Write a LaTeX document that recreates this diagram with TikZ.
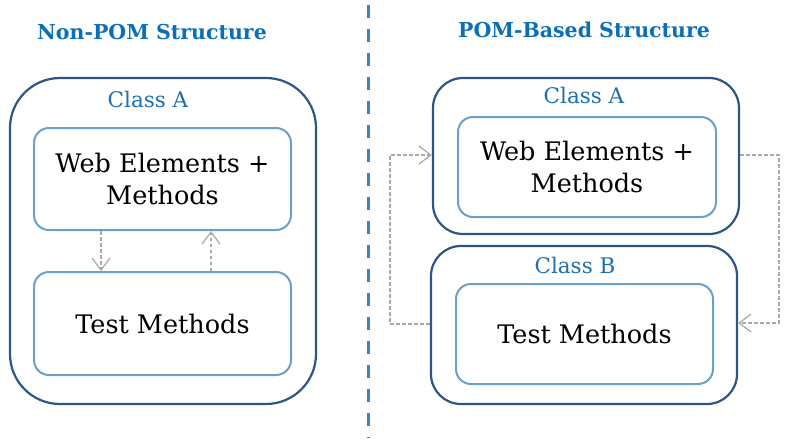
\documentclass[tikz,border=0pt]{standalone}
\usepackage{fontspec}
\setmainfont{DejaVu Serif}
\usetikzlibrary{arrows.meta}
\definecolor{outerc}{HTML}{2F5587}
\definecolor{innerc}{HTML}{6AA0CF}
\definecolor{titlec}{HTML}{0A6FB8}
\definecolor{classc}{HTML}{1F6FB0}
\definecolor{sepc}{HTML}{4A7CC0}
\definecolor{linkc}{HTML}{A8A8A8}
\tikzset{
  outerbox/.style={draw=outerc,line width=2.2pt},
  innerbox/.style={draw=innerc,line width=2pt,rounded corners=15pt},
  title/.style={text=titlec,font=\fontsize{20.5}{24}\selectfont\bfseries},
  classlbl/.style={text=classc,font=\fontsize{21.5}{24}\selectfont},
  body/.style={text=black,font=\fontsize{25.5}{32}\selectfont,align=center},
  link/.style={draw=linkc,line width=1.2pt,dash pattern=on 3.5pt off 2.5pt,
    -{Straight Barb[length=12pt,width=18pt,line width=1.2pt]}},
}
\begin{document}
\begin{tikzpicture}[x=1pt,y=-1pt]
\useasboundingbox (0,0) rectangle (786,440);
% separator
\draw[sepc,line width=3pt,dash pattern=on 13pt off 11pt] (368,5) -- (368,438);
% titles
\node[title] (t1) at (152,32) {Non-POM Structure};
\node[title] (t2) at (584,30) {POM-Based Structure};
% left
\draw[outerbox,rounded corners=50pt] (10,78) rectangle (316,404);
\node[classlbl] (lca) at (148,99) {Class A};
\node[innerbox,minimum width=257pt,minimum height=102pt] (lweb) at (162.5,179) {};
\node[body] at (lweb.center) {Web Elements +\\Methods};
\node[innerbox,minimum width=257pt,minimum height=103pt] (ltest) at (162.5,323.5) {};
\node[body] at (ltest.center) {Test Methods};
\draw[link] (lweb.south -| 101,0) -- (ltest.north -| 101,0);
\draw[link] (ltest.north -| 211,0) -- (lweb.south -| 211,0);
% right
\node[outerbox,rounded corners=30pt,minimum width=306pt,minimum height=156pt] (ra) at (586,156) {};
\node[classlbl] (rca) at (584,95) {Class A};
\node[innerbox,minimum width=258pt,minimum height=100pt] (rweb) at (587,167) {};
\node[body] at (rweb.center) {Web Elements +\\Methods};
\node[outerbox,rounded corners=30pt,minimum width=306pt,minimum height=158pt] (rb) at (584,325) {};
\node[classlbl] (rcb) at (575,265) {Class B};
\node[innerbox,minimum width=257pt,minimum height=100pt] (rtest) at (584.5,334) {};
\node[body] at (rtest.center) {Test Methods};
\coordinate (l1) at (390,324);
\coordinate (l2) at (390,155);
\coordinate (r1) at (779,155);
\coordinate (r2) at (779,323);
\draw[link] (rb.west |- l1) -- (l1) -- (l2) -- (ra.west |- l2);
\draw[link] (ra.east |- r1) -- (r1) -- (r2) -- (rb.east |- r2);
\end{tikzpicture}
\end{document}
